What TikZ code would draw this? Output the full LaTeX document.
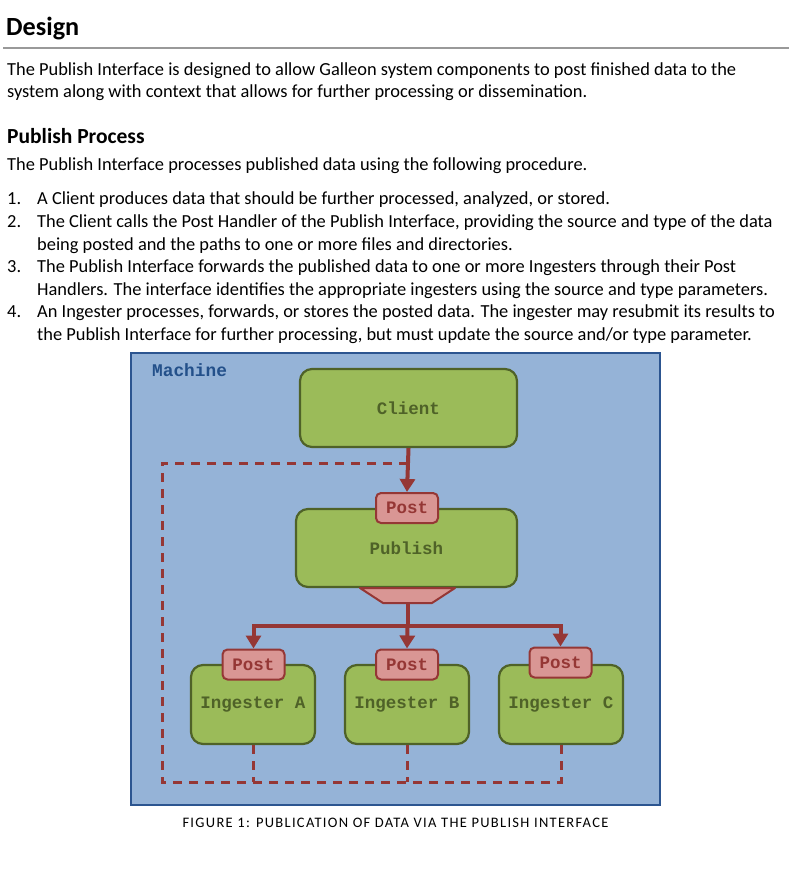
\documentclass[tikz,border=0pt]{standalone}
\usepackage{fontspec}
\setmainfont{Carlito}
\setmonofont{Liberation Mono}
\newfontfamily\capfont[LetterSpace=9]{Carlito}
\usetikzlibrary{arrows.meta}

\definecolor{machfill}{HTML}{95B3D7}
\definecolor{machline}{HTML}{2C5590}
\definecolor{machtext}{HTML}{23508A}
\definecolor{boxfill}{HTML}{9BBB59}
\definecolor{boxline}{HTML}{4F6228}
\definecolor{postfill}{HTML}{D99694}
\definecolor{postred}{HTML}{953735}

\tikzset{
  body/.style={anchor=base west,inner sep=0pt,font=\fontsize{18.4}{22}\selectfont},
  head/.style={anchor=base west,inner sep=0pt,font=\fontsize{26.2}{30}\selectfont\bfseries},
  subhead/.style={anchor=base west,inner sep=0pt,font=\fontsize{21.5}{25}\selectfont\bfseries},
  box/.style={draw=boxline,fill=boxfill,line width=2.2pt,rounded corners=12pt,
    inner sep=0pt,text=boxline,font=\fontsize{17.5}{20}\selectfont\ttfamily\bfseries},
  postbox/.style={draw=postred,fill=postfill,line width=2pt,rounded corners=5pt,
    minimum width=62pt,minimum height=30pt,inner sep=0pt,text=postred,
    font=\fontsize{17.5}{20}\selectfont\ttfamily\bfseries},
  flow/.style={draw=postred,line width=4pt,-{Triangle[length=13pt,width=15pt]}},
  back/.style={draw=postred,line width=3pt,dash pattern=on 9pt off 7pt}
}

\begin{document}
\begin{tikzpicture}[x=1pt,y=-1pt]
	\useasboundingbox (0,0) rectangle (811,878);
	\fill[white] (0,0) rectangle (811,878);

	% page text
	\node[head] (design) at (6,35) {Design};
	\draw[gray!80,line width=1.3pt] (3,48) -- (789,48);
	\node[body] (intro1) at (7,75) {The Publish Interface is designed to allow Galleon system components to post finished data to the};
	\node[body] (intro2) at (7,97) {system along with context that allows for further processing or dissemination.};
	\node[subhead] (process) at (7,143) {Publish Process};
	\node[body] (lead) at (7,170) {The Publish Interface processes published data using the following procedure.};

	\node[body] (n1) at (7,204) {1.};
	\node[body] (s1) at (37,204) {A Client produces data that should be further processed, analyzed, or stored.};
	\node[body] (n2) at (7,227) {2.};
	\node[body] (s2a) at (37,227) {The Client calls the Post Handler of the Publish Interface, providing the source and type of the data};
	\node[body] (s2b) at (37,250) {being posted and the paths to one or more files and directories.};
	\node[body] (n3) at (7,272) {3.};
	\node[body] (s3a) at (37,272) {The Publish Interface forwards the published data to one or more Ingesters through their Post};
	\node[body] (s3b) at (37,295) {Handlers. The interface identifies the appropriate ingesters using the source and type parameters.};
	\node[body] (n4) at (7,317) {4.};
	\node[body] (s4a) at (37,317) {An Ingester processes, forwards, or stores the posted data. The ingester may resubmit its results to};
	\node[body] (s4b) at (37,340) {the Publish Interface for further processing, but must update the source and/or type parameter.};

	% machine
	\draw[fill=machfill,draw=machline,line width=2.5pt] (131,353) rectangle (660,805);
	\node[anchor=west,inner sep=0pt,text=machtext,font=\fontsize{17.8}{20}\selectfont\ttfamily\bfseries] (machine) at (152,370) {Machine};

	\node[box,minimum width=217pt,minimum height=78pt] (client) at (408.5,408) {Client};
	\node[box,minimum width=221pt,minimum height=78pt] (publish) at (406.5,548) {Publish};
	\node[postbox] (post) at (407,508) {Post};
	\draw[draw=postred,fill=postfill,line width=2pt,line join=round]
		(360,588) -- (455,588) -- (432,603) -- (383,603) -- cycle;
	\coordinate (fan) at (407.5,603);

	\node[box,minimum width=124pt,minimum height=79pt] (ingA) at (253,704.5) {Ingester A};
	\node[box,minimum width=124pt,minimum height=79pt] (ingB) at (407,704.5) {Ingester B};
	\node[box,minimum width=124pt,minimum height=79pt] (ingC) at (561,704.5) {Ingester C};
	\node[postbox] (postA) at (253.5,664.5) {Post};
	\node[postbox] (postB) at (407,664.5) {Post};
	\node[postbox] (postC) at (560.5,662.5) {Post};

	% resubmit loop
	\coordinate (looptl) at (162,463);
	\coordinate (loopbl) at (162,782);
	\draw[back] (ingC.south) |- (loopbl) -- (looptl) -- (looptl -| client.south);
	\draw[back] (ingA.south) -- (ingA.south |- loopbl);
	\draw[back] (ingB.south) -- (ingB.south |- loopbl);

	% posting
	\draw[flow] (client.south) -- (post.north);
	\coordinate (split) at (407.5,626);
	\draw[draw=postred,line width=4pt] (fan) -- (split);
	\draw[flow] (split) -| (postA.north);
	\draw[flow] (split) -- (postB.north);
	\draw[flow] (split) -| (postC.north);

	\node[anchor=base,inner sep=0pt,font=\fontsize{14.5}{17}\selectfont\capfont] (caption) at (395.5,827) {FIGURE 1: PUBLICATION OF DATA VIA THE PUBLISH INTERFACE};
\end{tikzpicture}
\end{document}
